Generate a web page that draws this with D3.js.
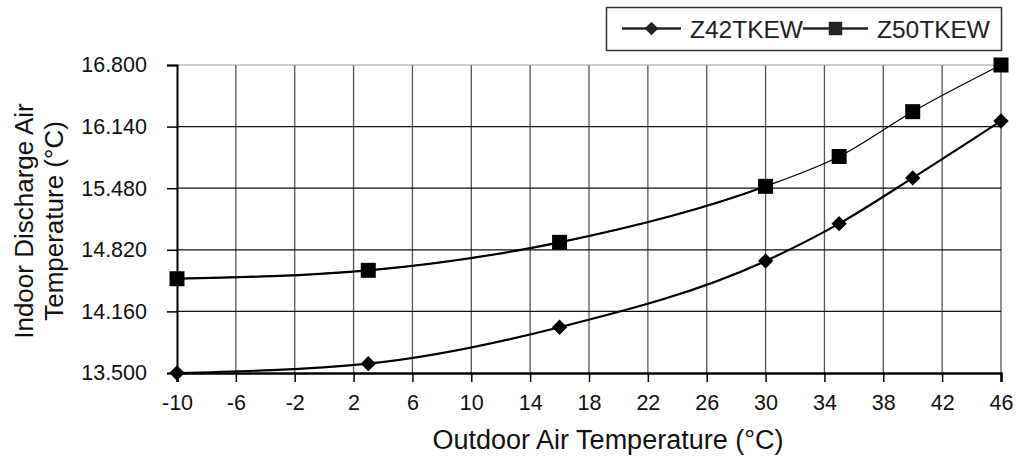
<!DOCTYPE html>
<html>
<head>
<meta charset="utf-8">
<script src="https://cdn.jsdelivr.net/npm/d3@7"></script>
<style>
  html, body { margin: 0; padding: 0; background: #fff; }
  svg { display: block; font-family: "Liberation Sans", Arial, sans-serif; }
</style>
</head>
<body>
<svg id="chart" width="1016" height="462"></svg>
<script>
// outdoor temperatures where the markers sit
const outdoorTemps = [-10, 3, 16, 30, 35, 40, 46];
// indoor discharge air temperature per unit
const z42Values = [13.50, 13.60, 13.99, 14.70, 15.10, 15.59, 16.20];
const z50Values = [14.51, 14.60, 14.90, 15.50, 15.82, 16.30, 16.80];
const seriesNames = ['Z42TKEW', 'Z50TKEW'];
const xTicks = d3.range(-10, 47, 4);
const yTicks = [13.5, 14.16, 14.82, 15.48, 16.14, 16.8];

const svg = d3.select('#chart');
const m = { top: 65, right: 15, bottom: 89, left: 177 };
const W = 1016, H = 462;
const w = W - m.left - m.right;
const h = H - m.top - m.bottom;

const x = d3.scaleLinear().domain([-10, 46]).range([0, w]);
const y = d3.scaleLinear().domain([13.5, 16.8]).range([h, 0]);

const g = svg.append('g').attr('transform', `translate(${m.left},${m.top})`);

// grid
g.append('g')
  .selectAll('line')
  .data(xTicks.slice(1))
  .join('line')
  .attr('x1', d => x(d)).attr('x2', d => x(d))
  .attr('y1', 0).attr('y2', h)
  .attr('stroke', '#555').attr('stroke-width', 1.3);

g.append('g')
  .selectAll('line')
  .data(yTicks.slice(1))
  .join('line')
  .attr('x1', 0).attr('x2', w)
  .attr('y1', d => y(d)).attr('y2', d => y(d))
  .attr('stroke', d => d === 16.8 ? '#999' : '#111').attr('stroke-width', 1.2);

// axes
const yAxis = g.append('g')
  .call(d3.axisLeft(y).tickValues(yTicks).tickFormat(d3.format('.3f')).tickSize(10).tickPadding(20));
const xAxis = g.append('g')
  .attr('transform', `translate(0,${h})`)
  .call(d3.axisBottom(x).tickValues(xTicks).tickFormat(d => String(d)).tickSize(9).tickPadding(13));

[yAxis, xAxis].forEach(a => {
  a.select('.domain').attr('stroke', '#000').attr('stroke-width', 2);
  a.selectAll('.tick line').attr('stroke', '#000').attr('stroke-width', 1.5);
  a.selectAll('.tick text')
    .attr('fill', '#111')
    .style('font-family', '"Liberation Sans", Arial, sans-serif')
    .style('font-size', '21.5px');
});
xAxis.select('.domain').attr('stroke-width', 2.5);

// axis titles
svg.append('text')
  .attr('x', 608).attr('y', 449)
  .attr('text-anchor', 'middle')
  .style('font-size', '27px').attr('fill', '#111')
  .text('Outdoor Air Temperature (°C)');

const yTitle = svg.append('text')
  .attr('transform', `translate(0,${m.top + h / 2 + 2}) rotate(-90)`)
  .attr('text-anchor', 'middle')
  .style('font-size', '26px').attr('fill', '#111');
yTitle.append('tspan').attr('x', 0).attr('y', 33).text('Indoor Discharge Air');
yTitle.append('tspan').attr('x', 0).attr('y', 63).text('Temperature (°C)');

// series
const z42 = outdoorTemps.map((t, i) => ({ t, v: z42Values[i] }));
const z50 = outdoorTemps.map((t, i) => ({ t, v: z50Values[i] }));

const line = d3.line()
  .x(d => x(d.t))
  .y(d => y(d.v))
  .curve(d3.curveMonotoneX);

g.append('path').datum(z42)
  .attr('d', line).attr('fill', 'none')
  .attr('stroke', '#000').attr('stroke-width', 2.2);

// Z50 line is drawn thinner past 30°C in the original
svg.append('clipPath').attr('id', 'thickPart')
  .append('rect').attr('x', -20).attr('y', -20).attr('width', x(30) + 20).attr('height', h + 40);
g.append('path').datum(z50)
  .attr('d', line).attr('fill', 'none')
  .attr('stroke', '#000').attr('stroke-width', 1.2);
g.append('path').datum(z50)
  .attr('d', line).attr('fill', 'none')
  .attr('stroke', '#000').attr('stroke-width', 2.2)
  .attr('clip-path', 'url(#thickPart)');

const diamond = d3.symbol().type(d3.symbolDiamond2).size(150);
const square = d3.symbol().type(d3.symbolSquare).size(225);

g.selectAll('.m42').data(z42).join('path')
  .attr('transform', d => `translate(${x(d.t)},${y(d.v)})`)
  .attr('d', diamond).attr('fill', '#000');

g.selectAll('.m50').data(z50).join('path')
  .attr('transform', d => `translate(${x(d.t)},${y(d.v)})`)
  .attr('d', square).attr('fill', '#000');

// legend
const lg = svg.append('g');
lg.append('rect')
  .attr('x', 606.5).attr('y', 7.5).attr('width', 395).attr('height', 43)
  .attr('fill', '#fff').attr('stroke', '#333').attr('stroke-width', 1.5);

const legendItems = [
  { name: seriesNames[0], x0: 622, x1: 681, mark: d3.symbol().type(d3.symbolDiamond2).size(120), tx: 690 },
  { name: seriesNames[1], x0: 803, x1: 868, mark: d3.symbol().type(d3.symbolSquare).size(180), tx: 877 }
];
legendItems.forEach(it => {
  lg.append('line')
    .attr('x1', it.x0).attr('x2', it.x1).attr('y1', 28.5).attr('y2', 28.5)
    .attr('stroke', '#222').attr('stroke-width', 2.5);
  lg.append('path')
    .attr('transform', `translate(${(it.x0 + it.x1) / 2},28.5)`)
    .attr('d', it.mark())
    .attr('fill', '#222');
  lg.append('text')
    .attr('x', it.tx).attr('y', 38)
    .style('font-size', '24.5px').attr('fill', '#222')
    .text(it.name);
});
</script>
</body>
</html>
